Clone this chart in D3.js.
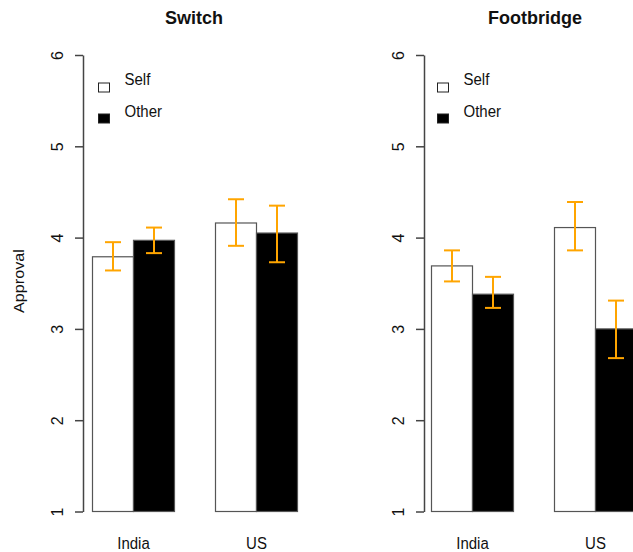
<!DOCTYPE html>
<html>
<head>
<meta charset="utf-8">
<script src="https://cdn.jsdelivr.net/npm/d3@7"></script>
<style>
  body { margin: 0; background: #fff; }
  text { font-family: Arial, "Liberation Sans", sans-serif; fill: #111; }
</style>
</head>
<body>
<svg id="chart" width="633" height="552"></svg>
<script>
const scenarios = ['Switch', 'Footbridge'];
const countries = ['India', 'US'];
const conditions = ['Self', 'Other'];
const yTicks = [1, 2, 3, 4, 5, 6];

// means and error limits, per country
const switchSelf = [3.79, 4.16];
const switchOther = [3.97, 4.05];
const switchSelfLo = [3.64, 3.91];
const switchSelfHi = [3.95, 4.42];
const switchOtherLo = [3.83, 3.73];
const switchOtherHi = [4.11, 4.35];

const footSelf = [3.69, 4.11];
const footOther = [3.38, 3.00];
const footSelfLo = [3.52, 3.86];
const footSelfHi = [3.86, 4.39];
const footOtherLo = [3.23, 2.68];
const footOtherHi = [3.57, 3.31];

const panelData = [
  { self: switchSelf, other: switchOther, selfLo: switchSelfLo, selfHi: switchSelfHi, otherLo: switchOtherLo, otherHi: switchOtherHi },
  { self: footSelf, other: footOther, selfLo: footSelfLo, selfHi: footSelfHi, otherLo: footOtherLo, otherHi: footOtherHi }
];

const panels = [
  { axisX: 83, barX: 92.5 },
  { axisX: 424, barX: 431.5 }
];

const svg = d3.select('#chart');
const y = d3.scaleLinear().domain([1, 6]).range([511.5, 55]);
const unit = 41;
const capW = 16;
const orange = '#FFA500';

// y label
svg.append('text')
  .attr('transform', 'translate(24,281) scale(1,1.08) rotate(-90)')
  .attr('text-anchor', 'middle')
  .style('font-size', '15px')
  .text('Approval');

scenarios.forEach((name, p) => {
  const pan = panels[p];
  const d = panelData[p];
  // bar positions in barplot units: India 1..3, US 4..6
  const x = d3.scaleLinear().domain([1, 6]).range([pan.barX, pan.barX + 5 * unit]);
  const g = svg.append('g');

  const bars = [];
  countries.forEach((c, i) => {
    const start = 1 + i * 3;
    bars.push({ x0: start, v: d.self[i], lo: d.selfLo[i], hi: d.selfHi[i], fill: '#fff' });
    bars.push({ x0: start + 1, v: d.other[i], lo: d.otherLo[i], hi: d.otherHi[i], fill: '#000' });
  });

  g.selectAll('rect.bar')
    .data(bars)
    .enter()
    .append('rect')
    .attr('class', 'bar')
    .attr('x', b => x(b.x0))
    .attr('width', b => x(b.x0 + 1) - x(b.x0))
    .attr('y', b => y(b.v))
    .attr('height', b => y(1) - y(b.v))
    .attr('fill', b => b.fill)
    .attr('stroke', '#555')
    .attr('stroke-width', 1.2);

  const err = g.selectAll('g.err')
    .data(bars)
    .enter()
    .append('g')
    .attr('class', 'err')
    .attr('stroke', orange)
    .attr('stroke-width', 2);
  err.append('line')
    .attr('x1', b => x(b.x0 + 0.5)).attr('x2', b => x(b.x0 + 0.5))
    .attr('y1', b => y(b.lo)).attr('y2', b => y(b.hi));
  err.append('line')
    .attr('x1', b => x(b.x0 + 0.5) - capW / 2).attr('x2', b => x(b.x0 + 0.5) + capW / 2)
    .attr('y1', b => y(b.hi)).attr('y2', b => y(b.hi));
  err.append('line')
    .attr('x1', b => x(b.x0 + 0.5) - capW / 2).attr('x2', b => x(b.x0 + 0.5) + capW / 2)
    .attr('y1', b => y(b.lo)).attr('y2', b => y(b.lo));

  // y axis
  const axis = g.append('g')
    .attr('transform', `translate(${pan.axisX},0)`)
    .attr('font-size', 16)
    .call(d3.axisLeft(y).tickValues(yTicks).tickSize(8).tickSizeOuter(0).tickFormat(d3.format('d')));
  axis.attr('font-size', 16).attr('font-family', 'Arial, "Liberation Sans", sans-serif');
  axis.select('.domain').attr('stroke', '#444').attr('stroke-width', 1.5);
  axis.selectAll('.tick line').attr('stroke', '#444').attr('stroke-width', 1.5);
  axis.selectAll('.tick text')
    .attr('x', null).attr('dy', null)
    .attr('transform', 'translate(-20,0) rotate(-90)')
    .attr('text-anchor', 'middle')
    .attr('fill', '#111');

  // category labels
  g.selectAll('text.cat')
    .data(countries)
    .enter()
    .append('text')
    .attr('class', 'cat')
    .attr('transform', (c, i) => `translate(${x(2 + i * 3)},549) scale(1,1.08)`)
    .attr('text-anchor', 'middle')
    .style('font-size', '15px')
    .text(c => c);

  // title
  g.append('text')
    .attr('transform', `translate(${pan.axisX + 111},24) scale(1,1.05)`)
    .attr('text-anchor', 'middle')
    .style('font-size', '18px')
    .style('font-weight', 'bold')
    .text(name);

  // legend
  const lg = g.append('g').attr('transform', `translate(${pan.barX + 6},0)`);
  conditions.forEach((c, k) => {
    lg.append('rect')
      .attr('x', 0)
      .attr('y', 83 + k * 31)
      .attr('width', 11)
      .attr('height', 9)
      .attr('fill', k === 0 ? '#fff' : '#000')
      .attr('stroke', '#222')
      .attr('stroke-width', 1);
    lg.append('text')
      .attr('transform', `translate(26,${85 + k * 32}) scale(1,1.08)`)
      .style('font-size', '15px')
      .text(c);
  });
});
</script>
</body>
</html>
